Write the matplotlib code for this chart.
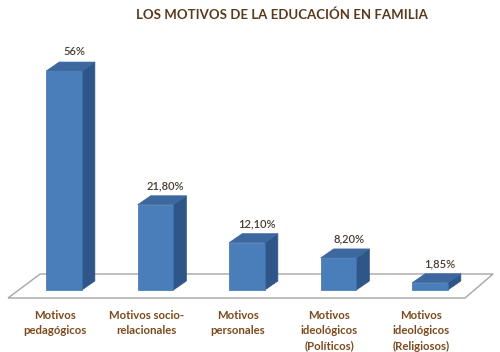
import matplotlib.pyplot as plt
from matplotlib.patches import Polygon

categories = ["Motivos\npedagógicos", "Motivos socio-\nrelacionales", "Motivos\npersonales",
              "Motivos\nideológicos\n(Políticos)", "Motivos\nideológicos\n(Religiosos)"]
values = [56, 21.8, 12.1, 8.2, 1.85]
value_labels = ["56%", "21,80%", "12,10%", "8,20%", "1,85%"]

title = "LOS MOTIVOS DE LA EDUCACIÓN EN FAMILIA"

plt.rcParams['font.family'] = ['Lato', 'DejaVu Sans']

fig = plt.figure(figsize=(5, 3.52), dpi=100)
ax = fig.add_axes([0, 0, 1, 1])
ax.set_xlim(-0.70, 4.765)
ax.set_ylim(-15.86, 74.17)
ax.axis("off")

width = 0.39      # front face width
dx, dy = 0.142, 2.3  # depth offset

front_c = "#4a7ebb"
side_c = "#2f5688"
top_c = "#3c679f"

# floor
floor = Polygon([(-0.612, -2.05), (4.383, -2.05), (4.689, 4.09), (-0.262, 4.09)],
                closed=True, facecolor="white", edgecolor="#a6a6a6", lw=1.0, zorder=1)
ax.add_patch(floor)

for i, v in enumerate(values):
    x0 = i - width / 2
    x1 = i + width / 2
    front = Polygon([(x0, 0), (x1, 0), (x1, v), (x0, v)], facecolor=front_c,
                    edgecolor="#3f6fa8", lw=0.5, zorder=3)
    side = Polygon([(x1, 0), (x1 + dx, dy), (x1 + dx, v + dy), (x1, v)], facecolor=side_c,
                   edgecolor=side_c, lw=0.5, zorder=2)
    top = Polygon([(x0, v), (x1, v), (x1 + dx, v + dy), (x0 + dx, v + dy)], facecolor=top_c,
                  edgecolor=top_c, lw=0.5, zorder=2)
    for p in (side, top, front):
        ax.add_patch(p)
    ax.text(i + 0.11, v + dy + 2.6, value_labels[i], ha="center", va="center",
            fontsize=8, color="#4a3c30", fontweight="semibold", zorder=5)
    ax.text(i - 0.1, -5.0, categories[i], ha="center", va="top", fontsize=8.2,
            color="#7b4a1c", fontweight="bold", linespacing=1.5, zorder=5)

fig.text(0.564, 0.957, title, ha="center", va="center", fontsize=9.5,
         fontweight="bold", color="#5a3a1d")

fig.savefig("out.png", dpi=100)
